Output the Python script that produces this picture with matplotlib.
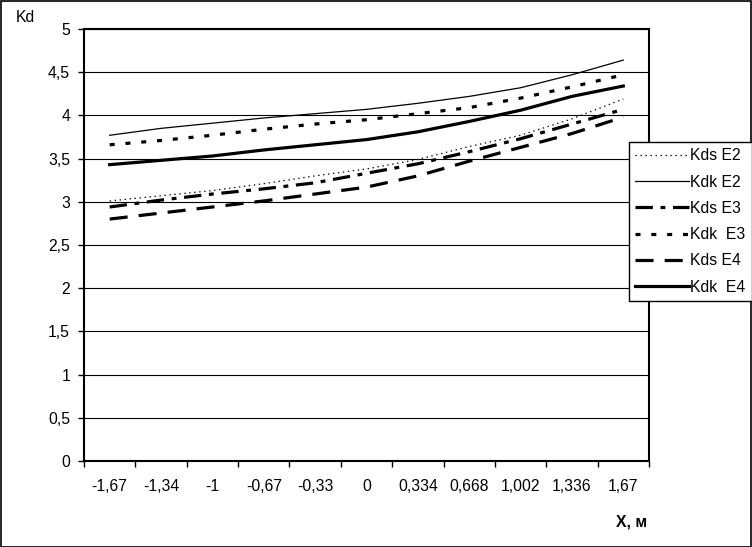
import matplotlib
matplotlib.use("Agg")
import matplotlib.pyplot as plt
from matplotlib.ticker import FixedLocator

plt.rcParams['font.family'] = ['Liberation Sans', 'DejaVu Sans']
plt.rcParams['lines.scale_dashes'] = False

categories = ["-1,67", "-1,34", "-1", "-0,67", "-0,33", "0", "0,334", "0,668", "1,002", "1,336", "1,67"]
kds_e2 = [3.01, 3.07, 3.13, 3.21, 3.30, 3.38, 3.49, 3.64, 3.77, 3.96, 4.19]
kdk_e2 = [3.77, 3.85, 3.91, 3.97, 4.02, 4.07, 4.14, 4.22, 4.32, 4.47, 4.64]
kds_e3 = [2.94, 3.02, 3.09, 3.15, 3.22, 3.33, 3.44, 3.58, 3.73, 3.90, 4.07]
kdk_e3 = [3.66, 3.71, 3.77, 3.84, 3.90, 3.95, 4.02, 4.09, 4.20, 4.33, 4.47]
kds_e4 = [2.80, 2.87, 2.94, 3.01, 3.09, 3.17, 3.30, 3.47, 3.63, 3.79, 3.98]
kdk_e4 = [3.43, 3.48, 3.53, 3.60, 3.66, 3.72, 3.81, 3.93, 4.06, 4.22, 4.34]
yticks = [0, 0.5, 1, 1.5, 2, 2.5, 3, 3.5, 4, 4.5, 5]
ytick_labels = ["0", "0,5", "1", "1,5", "2", "2,5", "3", "3,5", "4", "4,5", "5"]

FS = 11.3
W, H = 752, 547
fig = plt.figure(figsize=(W / 100, H / 100), dpi=100)
fig.patch.set_facecolor('white')

l, r, t, b = 84, 649, 29, 461
ax = fig.add_axes([l / W, 1 - b / H, (r - l) / W, (b - t) / H])

x = list(range(len(categories)))
ax.plot(x, kds_e2, color='black', lw=0.9, linestyle=(0, (1.0, 2.6)), label='Kds E2')
ax.plot(x, kdk_e2, color='black', lw=0.9, linestyle='-', label='Kdk E2')
ax.plot(x, kds_e3, color='black', lw=2.3, linestyle=(0, (12.5, 5.5, 3.5, 5.5)), label='Kds E3', dash_capstyle='butt')
ax.plot(x, kdk_e3, color='black', lw=2.3, linestyle=(0, (3.6, 7.8)), label='Kdk  E3', dash_capstyle='butt')
ax.plot(x, kds_e4, color='black', lw=2.3, linestyle=(0, (13, 8)), label='Kds E4', dash_capstyle='butt')
ax.plot(x, kdk_e4, color='black', lw=2.3, linestyle='-', label='Kdk  E4')

ax.set_xlim(-0.5, len(categories) - 0.5)
ax.set_ylim(0, 5)

ax.set_xticks(x)
ax.set_xticklabels(categories, fontsize=FS)
ax.xaxis.set_minor_locator(FixedLocator([i - 0.5 for i in range(len(categories) + 1)]))
ax.tick_params(axis='x', which='major', length=0, pad=13)
ax.tick_params(axis='x', which='minor', length=4, width=1, direction='out')

ax.set_yticks(yticks)
ax.set_yticklabels(ytick_labels, fontsize=FS)
ax.tick_params(axis='y', which='major', length=4, width=1, direction='out', pad=6)

ax.yaxis.grid(True, color='black', lw=0.8)
ax.set_axisbelow(True)
for s in ax.spines.values():
    s.set_linewidth(1.5)
    s.set_color('black')

fig.text(25 / W, 1 - 18 / H, 'Kd', fontsize=FS, ha='center', va='center')
fig.text(632 / W, 1 - 522 / H, 'X, м', fontsize=FS, ha='center', va='center', fontweight='bold')

leg = fig.legend(loc='upper left', bbox_to_anchor=(629 / W, 1 - 142 / H),
                 bbox_transform=fig.transFigure, frameon=True, fancybox=False,
                 edgecolor='black', framealpha=1, fontsize=FS, handlelength=3.4,
                 handletextpad=0.1, labelspacing=0.72, borderpad=0.4,
                 borderaxespad=0)
leg.get_frame().set_linewidth(1.0)

border = plt.Rectangle((0.5 / W, 0.5 / H), 1 - 1.5 / W, 1 - 1.5 / H, transform=fig.transFigure,
                       fill=False, edgecolor='black', lw=1.2)
fig.add_artist(border)

fig.savefig('out.png', dpi=100)
